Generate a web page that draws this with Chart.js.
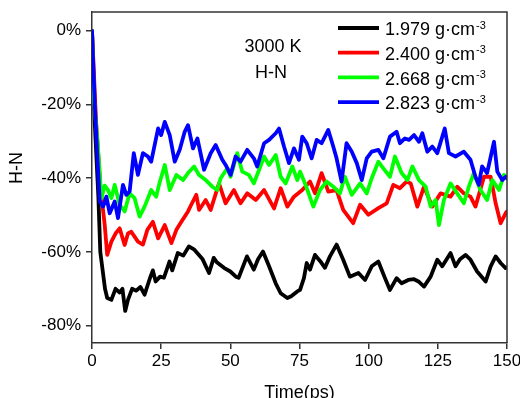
<!DOCTYPE html>
<html>
<head>
<meta charset="utf-8">
<script src="https://cdn.jsdelivr.net/npm/chart.js@4"></script>
<style>
body{margin:0;background:#fff}
</style>
</head>
<body>
<canvas id="c" width="520" height="398"></canvas>
<script>
// densities (legend) and colours
const densities = ['1.979','2.400','2.668','2.823']
const colors = ['#000000','#ff0000','#00ff00','#0000ff']
const xTicks = [0,25,50,75,100,125,150]
const yTicks = [0,-20,-40,-60,-80]

// time (ps) / H-N change (%)
const blackT = [0,1,2.3,3,4.7,5.5,7,8.5,10,11,12,13,14.5,16,17.5,19,21,22,23,24.6,26,28,29,31,33,35,37,40,42.3,44,45,47.7,50,52,53,56,58.5,60,61.8,64,66.4,68.2,70.6,72,74.2,75.2,76.6,77.6,78.8,80.6,82.5,84.2,86,88.4,90.8,93.2,96.3,98.7,101.1,103.5,105.9,107.7,110.1,111.9,114.3,116.4,118,120,122.4,124.8,126.6,129.6,131.4,133,135,136.8,139.2,142.3,144.1,145.9,147.7,149.5,150]
const blackV = [0,-25,-45,-60,-70,-72.5,-73,-70,-71,-70,-76,-73,-70,-70.5,-69.5,-71.6,-67,-65,-68,-66.7,-67,-62.6,-65,-60.3,-61,-58.5,-59.4,-62,-65.7,-61.6,-62.7,-64.3,-65.3,-66.7,-67,-61.2,-64.8,-62,-59.9,-63.9,-68.5,-71.2,-72.5,-72,-70.7,-70.3,-67.1,-63,-64.8,-60.8,-62.5,-64.3,-61.2,-58,-62.1,-66.7,-65.7,-67.6,-63.9,-62.6,-67.1,-70.3,-67.1,-68.5,-67.6,-67.4,-68,-69.4,-66.7,-62.1,-63.9,-60.3,-63.9,-62,-60.8,-62.1,-65.3,-68,-63.9,-61.2,-63,-64.4,-64.2]

const redT = [0,1.5,3,4.6,5.5,7,8.5,10,11.8,13,14.2,16.6,18.4,20,22,23.9,26.3,28.7,30.5,32.3,34.7,36,37.7,38.7,41.1,42.9,45.9,48.3,51.3,53.7,56.1,59.2,62.2,65.8,68.2,70.6,73,76,78.8,80.6,83,85.4,88.4,90.8,94.4,96.9,99.9,103.5,106.5,108.9,111.3,113.7,115.2,117.6,120,123,126,129.6,132,134.4,136.8,138.6,141.7,144.1,145.9,147.7,149.5,150]
const redV = [0,-25,-42,-52.7,-60.8,-57.2,-55,-53.6,-58.1,-55,-54.5,-57.2,-58,-54,-51.8,-56.3,-52.7,-57.6,-54,-51.8,-49,-47,-44.5,-48.6,-45.9,-48.6,-41.4,-46.8,-43.2,-46.8,-44.1,-45.9,-43.2,-48.2,-42.7,-47.7,-45,-43.2,-40.9,-44.1,-38.6,-43.6,-43.2,-48.6,-52.2,-47.2,-49.9,-48.1,-46.8,-41.8,-42.7,-40.9,-41.4,-47.7,-42.3,-47.7,-44.1,-45,-42.3,-44.1,-45,-47.7,-39.6,-39.6,-46.8,-52.2,-49.5,-49]

const greenT = [0,0.7,2,3.4,4.6,5.8,7,8.2,10,11.8,13.6,15.4,17.2,19,21.4,23.2,24.5,26.3,28.1,30.5,32.9,34.7,36.9,38.7,41.1,43.5,45.3,46.5,48.9,50.1,52.5,54.3,56.7,58.5,60.4,62.2,64,66.4,68.2,70,72.4,74.2,75.2,77,80,82.4,84.8,87.2,89.6,91.4,93.9,96.9,99.3,101.1,103.5,105.3,107.7,109.5,111.9,114,115.8,118.2,120.6,122.4,124.2,125.4,127.2,129.6,132,134.4,136.2,138,140.4,142.8,144.7,147.1,148.9,150]
const greenV = [0,-18.3,-30,-45.4,-42,-43.2,-45.4,-41.8,-47.2,-49,-44.1,-45.4,-50.4,-47.7,-43.2,-45,-41,-36.4,-43.2,-39.1,-40.5,-38.6,-36.8,-39.1,-40.5,-42.3,-43.2,-40,-37.3,-39.6,-33.2,-38.2,-39.1,-41.4,-37.7,-34.1,-36.4,-33.7,-39.6,-41.4,-36.8,-40.5,-38.2,-41.4,-47.7,-43.2,-40.9,-42.3,-44.1,-39.6,-44.5,-41.4,-44.1,-40,-35.5,-37.3,-39.6,-34.1,-38.6,-40.5,-36.8,-40.5,-42.3,-47.7,-45.9,-52.7,-45.9,-41.4,-44.1,-46.8,-42.3,-38.6,-43.2,-45.9,-40.5,-43.2,-39.1,-40]

const blueT = [0,1,2,2.8,4,5.2,6.4,8.2,9.4,11.2,12.4,13.6,15.1,16.6,18.4,20.2,21.4,23.9,25,26.3,28.1,29.9,31.7,33.5,34.7,36.5,38.1,40.5,42.9,44.7,47.1,48.3,50.1,51.9,53.7,56.1,58.5,59.7,62.2,64,66.4,67.6,69.4,71.2,73,74.8,76,77.6,79.4,81.2,83,85.4,87.2,88.4,90.2,92,93.9,95.7,97.5,99.3,101.1,103.5,105.3,107.7,110.1,111.3,113.1,114.6,116.4,118.2,119.4,121.2,123,124.8,127.5,129,131.4,134.4,136.8,138.6,139.8,141,142.8,145.3,146.5,148.3,149.5,150]
const blueV = [0,-20,-35,-46.3,-47.7,-45,-49.5,-46.3,-50.8,-41.8,-44.5,-43.6,-33.2,-39.1,-33.2,-34.1,-35.5,-26.5,-28.3,-24.7,-28.3,-35.5,-32.3,-27.4,-25.6,-31.9,-29.2,-37.7,-33.2,-31,-35,-36.4,-39.1,-34.1,-35.5,-32.3,-34.6,-36.8,-30.5,-29.6,-27.8,-26.5,-31.4,-35.9,-31.9,-35,-28.7,-30.5,-34.6,-29.6,-30.5,-26.9,-31.4,-34.6,-40.9,-30.5,-32.8,-35.9,-40.5,-34.6,-32.8,-32.3,-34.6,-28.7,-27.4,-30.5,-29.2,-29.6,-28.3,-30.1,-27.8,-32.8,-31.4,-33.2,-26.5,-33.2,-34.1,-32.8,-35,-39.6,-41.8,-36.8,-38.6,-30.1,-38.2,-40.5,-39.6,-40]

const seriesT = [blackT, redT, greenT, blueT]
const seriesV = [blackV, redV, greenV, blueV]

const FONT = '"Liberation Sans", Arial, sans-serif'
const axisColor = '#333'

const overlay = {
  id: 'overlay',
  afterDraw(chart){
    const {ctx, chartArea: a} = chart
    ctx.save()
    // top and right frame
    ctx.strokeStyle = axisColor
    ctx.lineWidth = 1.5
    ctx.beginPath()
    ctx.moveTo(a.left, a.top); ctx.lineTo(a.right, a.top); ctx.lineTo(a.right, a.bottom)
    ctx.stroke()

    // legend
    chart.data.datasets.forEach((ds, i) => {
      const y = 28 + i*24.7
      ctx.strokeStyle = ds.borderColor
      ctx.lineWidth = 3.8
      ctx.beginPath(); ctx.moveTo(338, y); ctx.lineTo(379, y); ctx.stroke()
      ctx.fillStyle = '#000'
      ctx.textAlign = 'left'
      ctx.textBaseline = 'alphabetic'
      ctx.font = '18px ' + FONT
      const txt = ds.label + ' g·cm'
      ctx.fillText(txt, 385, y + 7.3)
      const w = ctx.measureText(txt).width
      ctx.font = '11px ' + FONT
      ctx.fillText('-3', 385 + w + 1, y + 0.5)
    })

    // annotation
    ctx.fillStyle = '#000'
    ctx.font = '18px ' + FONT
    ctx.textAlign = 'center'
    ctx.fillText('3000 K', 273, 51.7)
    ctx.fillText('H-N', 271, 78)

    // y axis title
    ctx.translate(17.5, 168)
    ctx.rotate(-Math.PI/2)
    ctx.textBaseline = 'middle'
    ctx.fillText('H-N', 0, 0)
    ctx.restore()
  }
}

new Chart(document.getElementById('c'), {
  type: 'line',
  data: {
    datasets: densities.map((d, i) => ({
      label: d,
      data: seriesT[i].map((t, k) => ({x: t, y: seriesV[i][k]})),
      borderColor: colors[i],
      backgroundColor: colors[i],
      borderWidth: 3.8,
      borderJoinStyle: 'round',
      borderCapStyle: 'round',
      pointRadius: 0,
      tension: 0,
      order: 3 - i
    }))
  },
  options: {
    responsive: false,
    animation: false,
    layout: {padding: {top: 12, right: 13, left: 0, bottom: 0}},
    plugins: {legend: {display: false}, tooltip: {enabled: false}},
    scales: {
      x: {
        type: 'linear', min: 0, max: 150,
        afterBuildTicks: s => { s.ticks = xTicks.map(v => ({value: v})) },
        afterFit: s => { s.height = 55; s.paddingLeft = 0; s.paddingRight = 0 },
        grid: {drawOnChartArea: false, tickLength: 6, color: axisColor, lineWidth: 1.5},
        border: {color: axisColor, width: 1.5},
        ticks: {color: '#000', padding: 2, font: {family: FONT, size: 17}, maxRotation: 0},
        title: {display: true, text: 'Time(ps)', color: '#000', font: {family: FONT, size: 18}, padding: {top: 0, bottom: -6}}
      },
      y: {
        min: -84.7, max: 5.1,
        afterBuildTicks: s => { s.ticks = yTicks.map(v => ({value: v})) },
        afterFit: s => { s.width = 92; s.paddingTop = 0; s.paddingBottom = 0 },
        grid: {drawOnChartArea: false, tickLength: 6, color: axisColor, lineWidth: 1.5},
        border: {color: axisColor, width: 1.5},
        ticks: {color: '#000', padding: 5, font: {family: FONT, size: 17}, callback: v => v + '%'}
      }
    }
  },
  plugins: [overlay]
})
</script>
</body>
</html>
